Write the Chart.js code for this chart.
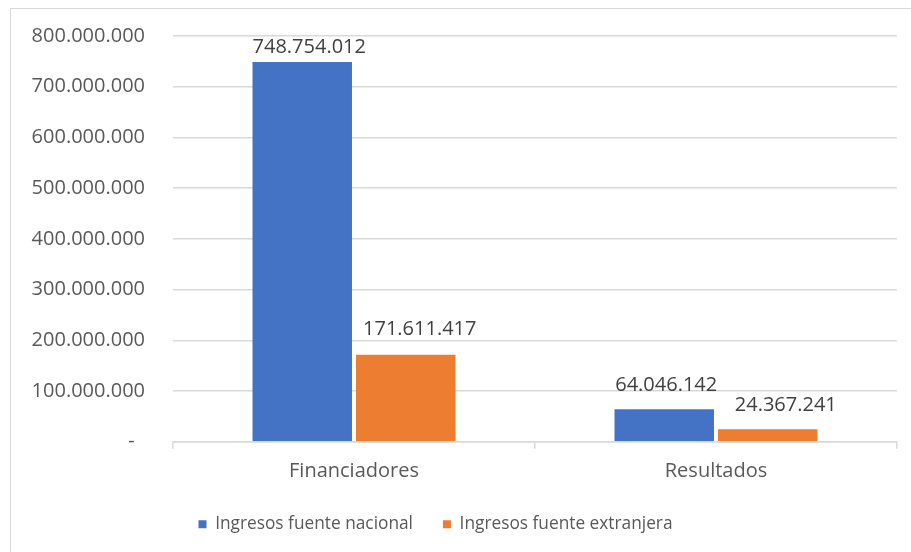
<!DOCTYPE html>
<html><head><meta charset="utf-8">
<script src="https://cdn.jsdelivr.net/npm/chart.js@4"></script>
<style>
html,body{margin:0;padding:0;background:#fff;overflow:hidden;width:911px;height:552px}
#frame{position:absolute;left:10px;top:8px;width:1000px;height:700px;border:1.5px solid #d9d9d9;box-sizing:border-box}
#wrap{position:absolute;left:0;top:0;width:911px;height:552px}
</style></head><body>
<div id="frame"></div>
<div id="wrap"><canvas id="c"></canvas></div>
<script>
const categories = ['Financiadores', 'Resultados'];
const seriesNames = ['Ingresos fuente nacional', 'Ingresos fuente extranjera'];
const nacional = [748754012, 64046142];
const extranjera = [171611417, 24367241];
const yTickValues = [0, 100000000, 200000000, 300000000, 400000000, 500000000, 600000000, 700000000, 800000000];

function fmt(v) {
  return String(Math.round(v)).replace(/\B(?=(\d{3})+(?!\d))/g, '.');
}

const FONT = '"Open Sans", "Noto Sans", sans-serif';

const dataLabels = {
  id: 'dataLabels',
  afterDatasetsDraw(chart, args, opts) {
    const ctx = chart.ctx;
    ctx.save();
    ctx.font = opts.size + 'px ' + FONT;
    ctx.fillStyle = opts.color;
    ctx.textAlign = 'center';
    ctx.textBaseline = 'alphabetic';
    chart.data.datasets.forEach((ds, di) => {
      const meta = chart.getDatasetMeta(di);
      meta.data.forEach((el, i) => {
        const off = opts.offsets[di][i];
        ctx.fillText(fmt(ds.data[i]), el.x + off[0], el.y - off[1]);
      });
    });
    ctx.restore();
  }
};

const shiftLegend = {
  id: 'shiftLegend',
  afterLayout(chart, args, opts) {
    const lg = chart.legend;
    if (!lg) return;
    lg.left += opts.dx; lg.right += opts.dx;
    lg.top += opts.dy; lg.bottom += opts.dy;
  }
};

new Chart(document.getElementById('c'), {
  type: 'bar',
  data: {
    labels: categories,
    datasets: [
      { label: seriesNames[0], data: nacional, backgroundColor: '#4472C4' },
      { label: seriesNames[1], data: extranjera, backgroundColor: '#ED7D31' }
    ]
  },
  options: {
    responsive: true,
    maintainAspectRatio: false,
    animation: false,
    events: [],
    datasets: { bar: { categoryPercentage: 0.572, barPercentage: 0.961 } },
    layout: { padding: { left: 0, right: 14, top: 36, bottom: 4 } },
    scales: {
      x: {
        grid: { display: true, drawOnChartArea: false, drawTicks: true, tickLength: 7, color: '#d9d9d9', lineWidth: 1.5, offset: true },
        border: { display: true, color: '#d9d9d9', width: 1.5 },
        ticks: { color: '#595959', font: { family: FONT, size: 20 }, padding: 11 },
        afterFit(s) { s.height = 49; }
      },
      y: {
        min: 0, max: 800000000,
        afterBuildTicks(s) { s.ticks = yTickValues.map(v => ({ value: v })); },
        grid: { color: '#d9d9d9', lineWidth: 1.5, drawTicks: true, tickLength: 28, tickColor: 'rgba(0,0,0,0)' },
        border: { display: false },
        ticks: {
          color: '#595959', font: { family: FONT, size: 20 }, padding: 0,
          callback: (v) => v === 0 ? '-  ' : fmt(v)
        },
        afterFit(s) { s.width = 173; }
      }
    },
    plugins: {
      tooltip: { enabled: false },
      legend: {
        position: 'bottom',
        labels: {
          color: '#595959', font: { family: FONT, size: 17.3 },
          boxWidth: 8, boxHeight: 8, padding: 30
        }
      },
      shiftLegend: { dx: -13, dy: -5 },
      dataLabels: {
        size: 20, color: '#404040',
        offsets: [[[7, 9], [2, 18]], [[14, 20], [18, 18]]]
      }
    }
  },
  plugins: [dataLabels, shiftLegend]
});
</script>
</body></html>
